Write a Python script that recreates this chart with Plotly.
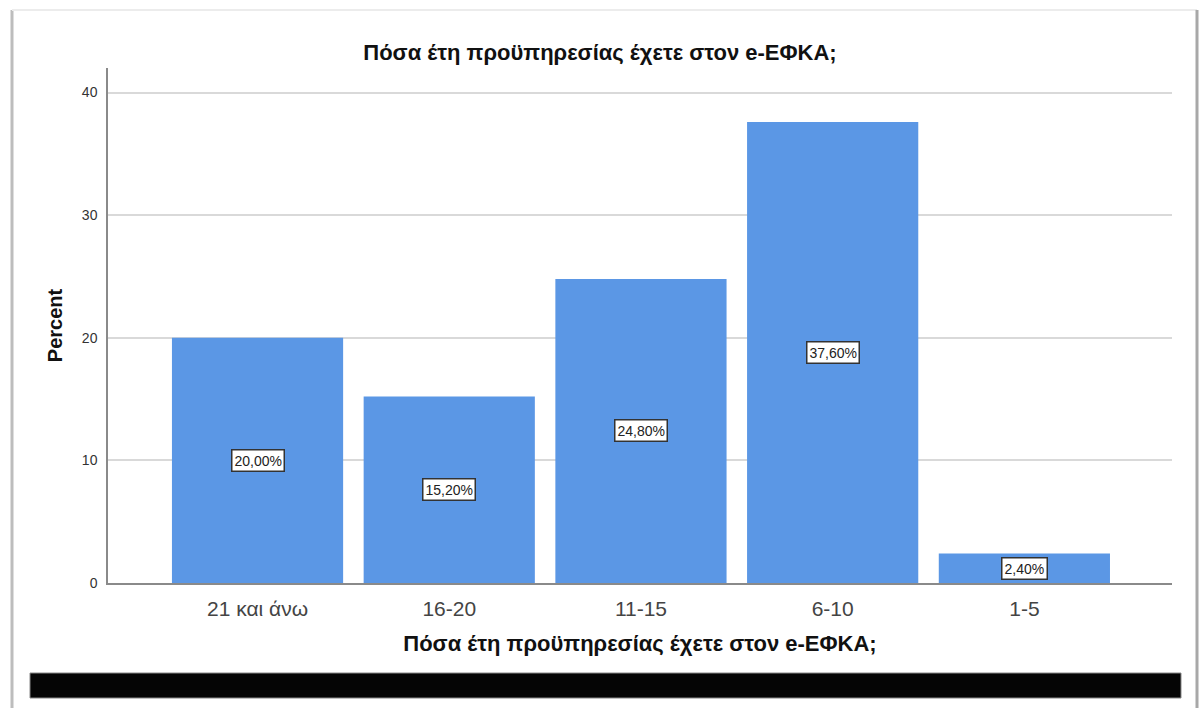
import plotly.graph_objects as go

categories = ["21 και άνω", "16-20", "11-15", "6-10", "1-5"]
percents = [20.0, 15.2, 24.8, 37.6, 2.4]
labels = ["20,00%", "15,20%", "24,80%", "37,60%", "2,40%"]
y_ticks = [0, 10, 20, 30, 40]
title_text = "Πόσα έτη προϋπηρεσίας έχετε στον e-ΕΦΚΑ;"

W, H = 1200, 708
L, R, T, B = 108, 1172, 68, 583
FONT = "Liberation Sans, Arial"

def px(x):
    return (x - L) / (R - L)

def py(y):
    return (B - y) / (B - T)

fig = go.Figure()
fig.add_trace(go.Bar(
    x=list(range(len(categories))),
    y=percents,
    width=0.893,
    marker=dict(color="rgb(91,151,229)", line=dict(width=0)),
    hoverinfo="skip",
))

for i, (v, lab) in enumerate(zip(percents, labels)):
    fig.add_annotation(
        x=i, y=v / 2, text=lab, showarrow=False,
        font=dict(family=FONT, size=14, color="#222"),
        bgcolor="white", bordercolor="#333", borderwidth=1.5, borderpad=2,
    )

shapes = [
    dict(type="line", xref="paper", yref="paper", x0=px(12), x1=px(12), y0=py(10), y1=py(712),
         line=dict(color="#bdbdbd", width=3)),
    dict(type="line", xref="paper", yref="paper", x0=px(12), x1=px(1197), y0=py(10), y1=py(10),
         line=dict(color="#ececec", width=2)),
    dict(type="line", xref="paper", yref="paper", x0=px(1197), x1=px(1197), y0=py(10), y1=py(712),
         line=dict(color="#a8a8a8", width=3)),
    dict(type="rect", xref="paper", yref="paper", x0=px(30), x1=px(1181), y0=py(673), y1=py(698),
         fillcolor="#050505", line=dict(color="#888", width=1)),
]

fig.update_layout(
    width=W, height=H,
    margin=dict(l=L, r=W - R, t=T, b=H - B, autoexpand=False),
    paper_bgcolor="white", plot_bgcolor="white",
    showlegend=False,
    shapes=shapes,
    title=dict(text="<b>" + title_text + "</b>", xref="container", x=0.5, xanchor="center",
               yref="container", y=1 - 52 / H, yanchor="middle",
               font=dict(family=FONT, size=22, color="#111")),
    xaxis=dict(
        tickmode="array", tickvals=list(range(len(categories))), ticktext=categories,
        range=[-0.78, 4.77], showgrid=False, zeroline=False,
        showline=True, linecolor="#8a8a8a", linewidth=1.5, ticks="",
        ticklabelstandoff=6,
        tickfont=dict(family=FONT, size=21, color="#444"),
        title=dict(text="<b>" + title_text + "</b>", standoff=17,
                   font=dict(family=FONT, size=22, color="#111")),
    ),
    yaxis=dict(
        range=[0, 42], tickvals=y_ticks, showgrid=True, gridcolor="#d9d9d9", gridwidth=1.5,
        zeroline=False, showline=True, linecolor="#8a8a8a", linewidth=1.5, ticks="",
        ticklabelstandoff=6,
        tickfont=dict(family=FONT, size=14, color="#333"),
        title=dict(text="<b>Percent</b>", standoff=14,
                   font=dict(family=FONT, size=20, color="#111")),
    ),
)

fig.write_html("out.html",
               config={"displayModeBar": False},
               post_script="document.body.style.margin='0px';document.body.style.overflow='hidden';")
